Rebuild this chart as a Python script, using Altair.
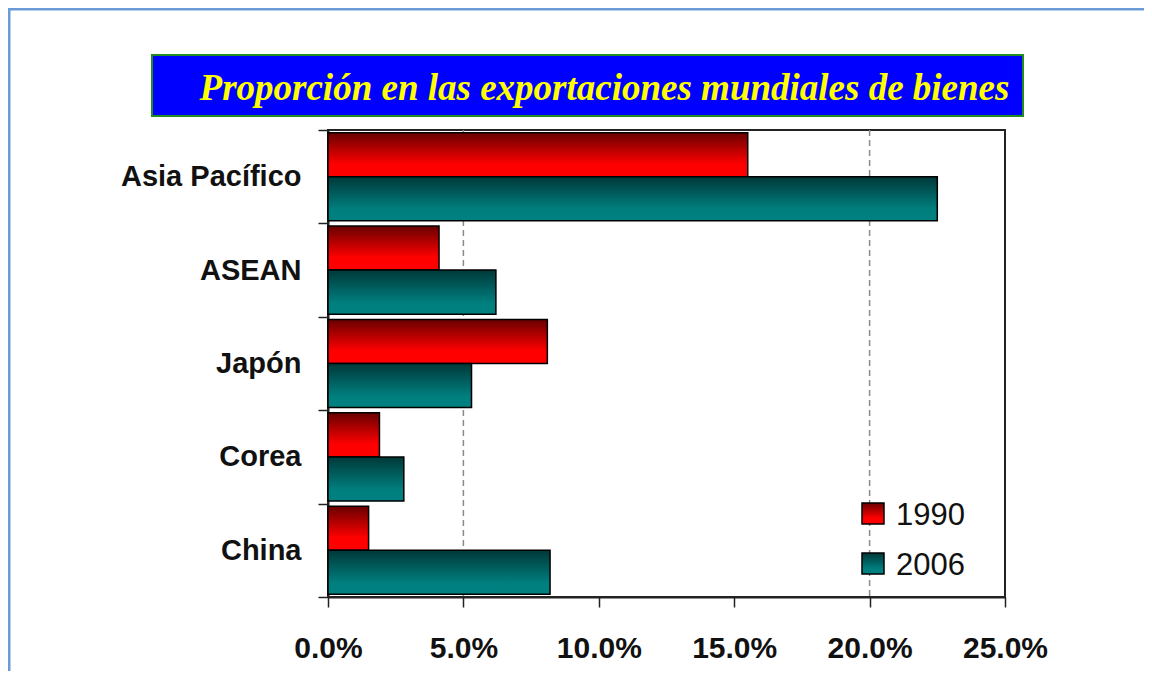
import altair as alt
import pandas as pd

# ---- data ----
categories = ["Asia Pacífico", "ASEAN", "Japón", "Corea", "China"]
years = ["1990", "2006"]
share_1990 = [15.5, 4.1, 8.1, 1.9, 1.5]   # % of world goods exports
share_2006 = [22.5, 6.2, 5.3, 2.8, 8.2]
x_ticks = [0, 5, 10, 15, 20, 25]
grid_values = [5, 20]
title_text = "Proporción en las exportaciones mundiales de bienes"

rows = []
for c, a, b in zip(categories, share_1990, share_2006):
    rows.append({"region": c, "year": years[0], "share": a / 100})
    rows.append({"region": c, "year": years[1], "share": b / 100})
df = pd.DataFrame(rows)
grid_df = pd.DataFrame({"g": [v / 100 for v in grid_values]})
one = pd.DataFrame({"t": [title_text]})
leg_df = pd.DataFrame({"year": years})

W, H = 677, 467
FONT = "Liberation Sans"

grad_red = {
    "gradient": "linear", "x1": 0, "y1": 0, "x2": 0, "y2": 1,
    "stops": [
        {"offset": 0, "color": "#680000"},
        {"offset": 0.72, "color": "#ff0000"},
        {"offset": 1, "color": "#ff0000"},
    ],
}
grad_teal = {
    "gradient": "linear", "x1": 0, "y1": 0, "x2": 0, "y2": 1,
    "stops": [
        {"offset": 0, "color": "#003838"},
        {"offset": 0.75, "color": "#007f7f"},
        {"offset": 1, "color": "#008080"},
    ],
}

x_scale = alt.Scale(domain=[0, 0.25], nice=False, zero=True)

# outer light-blue frame
frame = alt.Chart(one).mark_rect(fill="white", fillOpacity=0, stroke="#6a9bd8", strokeWidth=3).encode(
    x=alt.value(-319), x2=alt.value(900), y=alt.value(-121), y2=alt.value(600)
)

# title box
title_box = alt.Chart(one).mark_rect(fill="#0000ff", stroke="#228b22", strokeWidth=2).encode(
    x=alt.value(-176), x2=alt.value(695), y=alt.value(-75), y2=alt.value(-14)
)
title = alt.Chart(one).mark_text(
    font="Liberation Serif", fontSize=37, fontStyle="italic", fontWeight="bold",
    color="#ffff00", align="center", baseline="alphabetic",
).encode(x=alt.value(276.5), y=alt.value(-30), text="t:N")

grid = alt.Chart(grid_df).mark_rule(color="#8a8a8a", strokeDash=[6, 4], strokeWidth=1.5).encode(
    x=alt.X("g:Q", scale=x_scale, title=None)
)

bars = alt.Chart(df).mark_bar(stroke="black", strokeWidth=1.5).encode(
    x=alt.X(
        "share:Q", scale=x_scale, title=None,
        axis=alt.Axis(
            values=[v / 100 for v in x_ticks], format=".1%", grid=False,
            labelFont=FONT, labelFontSize=30, labelFontWeight="bold", labelColor="#111",
            tickSize=10, tickWidth=1.5, tickColor="#222", domainColor="#222", domainWidth=2,
            labelPadding=26, labelBaseline="top", labelFlush=False,
        ),
    ),
    y=alt.Y(
        "region:N", sort=categories, title=None,
        scale=alt.Scale(paddingInner=0, paddingOuter=0),
        axis=alt.Axis(
            labelFont=FONT, labelFontSize=29, labelFontWeight="bold", labelColor="#111",
            tickSize=10, tickWidth=1.5, tickColor="#222", domainColor="#222", domainWidth=2,
            labelPadding=17, tickBand="extent", labelAlign="right", labelLimit=0,
        ),
    ),
    yOffset=alt.YOffset("year:N", sort=years, scale=alt.Scale(paddingOuter=0.06, paddingInner=0)),
    fill=alt.condition(alt.datum.year == years[0], alt.value(grad_red), alt.value(grad_teal)),
)

# legend (inside plot, bottom right)
leg_rect_a = alt.Chart(leg_df).transform_filter(alt.datum.year == years[0]).mark_rect(
    stroke="black", strokeWidth=1.5, fill=grad_red
).encode(x=alt.value(534), x2=alt.value(556), y=alt.value(373), y2=alt.value(394))
leg_rect_b = alt.Chart(leg_df).transform_filter(alt.datum.year == years[1]).mark_rect(
    stroke="black", strokeWidth=1.5, fill=grad_teal
).encode(x=alt.value(534), x2=alt.value(556), y=alt.value(423), y2=alt.value(444))
leg_text_a = alt.Chart(leg_df).transform_filter(alt.datum.year == years[0]).mark_text(
    font=FONT, fontSize=31, align="left", baseline="middle", color="#111"
).encode(x=alt.value(568), y=alt.value(386), text="year:N")
leg_text_b = alt.Chart(leg_df).transform_filter(alt.datum.year == years[1]).mark_text(
    font=FONT, fontSize=31, align="left", baseline="middle", color="#111"
).encode(x=alt.value(568), y=alt.value(436), text="year:N")

chart = alt.layer(
    frame, title_box, title, grid, bars, leg_rect_a, leg_rect_b, leg_text_a, leg_text_b
).properties(
    width=W, height=H,
    autosize=alt.AutoSizeParams(type="none"),
    padding={"left": 320, "top": 122, "right": 139, "bottom": 74},
    background="white",
).configure_view(stroke="#222", strokeWidth=2)

chart.save("out.html", embed_options={"renderer": "svg", "actions": False})
